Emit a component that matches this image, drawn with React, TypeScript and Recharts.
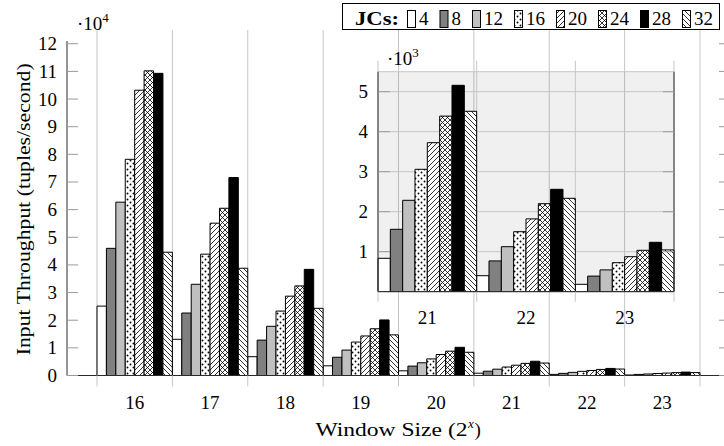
import React from 'react';
import { BarChart, Bar, XAxis, YAxis, CartesianGrid } from 'recharts';

// Window sizes (powers of two) and the joiner-core counts compared at each size
const windowSizes = [16, 17, 18, 19, 20, 21, 22, 23];
const jcCounts = [4, 8, 12, 16, 20, 24, 28, 32];

// Input throughput in tuples/second, one array per JC count (indexed by window size)
const jc4 = [25100, 13100, 6800, 3500, 1700, 835, 400, 185];
const jc8 = [46000, 22600, 12800, 6600, 3400, 1560, 770, 390];
const jc12 = [62700, 33000, 17800, 9200, 4600, 2285, 1125, 545];
const jc16 = [78200, 43900, 23300, 12100, 6000, 3060, 1500, 725];
const jc20 = [103200, 55100, 28700, 14300, 7600, 3725, 1820, 875];
const jc24 = [110200, 60500, 32400, 16900, 8800, 4390, 2200, 1035];
const jc28 = [109300, 71600, 38400, 20100, 10200, 5160, 2560, 1235];
const jc32 = [44600, 38800, 24300, 14700, 8400, 4510, 2335, 1045];

// Axis ticks
const mainTicks = [0, 10000, 20000, 30000, 40000, 50000, 60000, 70000, 80000, 90000, 100000, 110000, 120000];
const insetTicks = [1000, 2000, 3000, 4000, 5000];
const insetSizes = [21, 22, 23];

const seriesValues = [jc4, jc8, jc12, jc16, jc20, jc24, jc28, jc32];

const rows = windowSizes.map((size, i) => {
  const row: Record<string, number> = { size };
  jcCounts.forEach((jc, k) => {
    row['jc' + jc] = seriesValues[k][i];
  });
  return row;
});
const insetRows = rows.filter((r) => insetSizes.includes(r.size));

// ---- styling ----
const FONT = "'Liberation Serif', 'Times New Roman', serif";
const GRID = '#c6c6c6';
const TICK = '#9a9a9a';
const FRAME = '#2a2a2a';
const FS = 19;

const FILLS = ['#ffffff', '#808080', '#c0c0c0', 'url(#jc-dots)', 'url(#jc-ne)', 'url(#jc-cross)', '#000000', 'url(#jc-nw)'];

// ---- main chart layout ----
const MAIN_W = 760;
const MAIN_H = 446;
const MAIN_LEFT_AXIS = 67;
const MAIN_RIGHT_AXIS = 30;
const MAIN_TOP = 41;
const MAIN_X_AXIS_H = 40;
const MAIN_BOTTOM_MARGIN = 30.5;
const MAIN_PAD = 30;
const MAIN_PLOT_W = MAIN_W - MAIN_LEFT_AXIS - MAIN_RIGHT_AXIS;
const MAIN_PLOT_BOTTOM = MAIN_H - MAIN_X_AXIS_H - MAIN_BOTTOM_MARGIN;
const MAIN_BAND = (MAIN_PLOT_W - 2 * MAIN_PAD) / windowSizes.length;

// ---- inset layout ----
const INSET_X = 330;
const INSET_Y = 45;
const INSET_W = 354;
const INSET_H = 290;
const INSET_LEFT_AXIS = 48;
const INSET_RIGHT_AXIS = 10;
const INSET_TOP = 26.7;
const INSET_X_AXIS_H = 30;
const INSET_BOTTOM_MARGIN = 13.3;
const INSET_PLOT_W = INSET_W - INSET_LEFT_AXIS - INSET_RIGHT_AXIS;
const INSET_BAND = INSET_PLOT_W / insetSizes.length;

// ---- legend layout ----
const LEGEND_X = 342;
const LEGEND_Y = 3;
const LEGEND_W = 378;
const LEGEND_H = 27;
const SWATCH_W = 8;
const SWATCH_H = 17;
const DIGIT_W = 9.5;

// band boundaries for vertical grid lines, taken from the band scale when available
const bandEdges = (pad: number, band: number, count: number) => (args: any) => {
  const scale = args?.xAxis?.scale;
  try {
    if (scale && typeof scale.bandwidth === 'function' && typeof scale.domain === 'function') {
      const bw = scale.bandwidth();
      const starts = scale.domain().map((d: any) => scale(d));
      const out = [...starts, starts[starts.length - 1] + bw];
      if (out.every((v: any) => Number.isFinite(v))) return out;
    }
  } catch (e) {
    // fall through to layout-based edges
  }
  const left = args?.offset?.left ?? 0;
  return Array.from({ length: count + 1 }, (_, i) => left + pad + i * band);
};

const MainXTick = (props: any) => {
  const { x, y, payload, index } = props;
  const half = MAIN_BAND / 2;
  const edges = [x - half];
  if (index === windowSizes.length - 1) edges.push(x + half);
  return (
    <g>
      {edges.map((ex) => (
        <g key={ex}>
          <line x1={ex} x2={ex} y1={MAIN_TOP - 11} y2={MAIN_TOP} stroke={GRID} strokeWidth={1} />
          <line x1={ex} x2={ex} y1={y} y2={y + 11} stroke={GRID} strokeWidth={1} />
        </g>
      ))}
      <text x={x} y={y + 33.5} textAnchor="middle" fontSize={FS} fontFamily={FONT} fill="#000">
        {payload.value}
      </text>
    </g>
  );
};

const LeftYTick = (props: any) => {
  const { x, y, payload } = props;
  return (
    <g>
      <line x1={x + 10} x2={x + 21} y1={y} y2={y} stroke={TICK} strokeWidth={1} />
      <text x={x} y={y} dy="0.34em" textAnchor="end" fontSize={FS} fontFamily={FONT} fill="#000">
        {payload.value / 10000}
      </text>
    </g>
  );
};

const RightYTick = (props: any) => {
  const { x, y } = props;
  return <line x1={x - 11} x2={x} y1={y} y2={y} stroke={TICK} strokeWidth={1} />;
};

const InsetXTick = (props: any) => {
  const { x, y, payload, index } = props;
  const half = INSET_BAND / 2;
  const edges = [x - half];
  if (index === insetSizes.length - 1) edges.push(x + half);
  return (
    <g>
      {edges.map((ex) => (
        <g key={ex}>
          <line x1={ex} x2={ex} y1={INSET_TOP - 11} y2={INSET_TOP} stroke={GRID} strokeWidth={1} />
          <line x1={ex} x2={ex} y1={y} y2={y + 10} stroke={GRID} strokeWidth={1} />
        </g>
      ))}
      <text x={x} y={y + 32.3} textAnchor="middle" fontSize={FS} fontFamily={FONT} fill="#000">
        {payload.value}
      </text>
    </g>
  );
};

const InsetLeftTick = (props: any) => {
  const { x, y, payload } = props;
  return (
    <g>
      <line x1={x + 10} x2={x + 22} y1={y} y2={y} stroke={TICK} strokeWidth={1} />
      <text x={x} y={y} dy="0.34em" textAnchor="end" fontSize={FS} fontFamily={FONT} fill="#000">
        {payload.value / 1000}
      </text>
    </g>
  );
};

const InsetRightTick = (props: any) => {
  const { x, y } = props;
  return <line x1={x - 11} x2={x} y1={y} y2={y} stroke={TICK} strokeWidth={1} />;
};

const PatternDefs = () => (
  <svg width={0} height={0} style={{ position: 'absolute' }}>
    <defs>
      <pattern id="jc-dots" patternUnits="userSpaceOnUse" width={6} height={6}>
        <rect width={6} height={6} fill="#fff" />
        <circle cx={1.5} cy={1.5} r={0.95} fill="#000" />
        <circle cx={4.5} cy={4.5} r={0.95} fill="#000" />
      </pattern>
      <pattern id="jc-ne" patternUnits="userSpaceOnUse" width={5} height={5}>
        <rect width={5} height={5} fill="#fff" />
        <path d="M-1,1 L1,-1 M0,5 L5,0 M4,6 L6,4" stroke="#000" strokeWidth={0.8} />
      </pattern>
      <pattern id="jc-nw" patternUnits="userSpaceOnUse" width={5} height={5}>
        <rect width={5} height={5} fill="#fff" />
        <path d="M-1,4 L1,6 M0,0 L5,5 M4,-1 L6,1" stroke="#000" strokeWidth={0.8} />
      </pattern>
      <pattern id="jc-cross" patternUnits="userSpaceOnUse" width={5} height={5}>
        <rect width={5} height={5} fill="#fff" />
        <path d="M-1,1 L1,-1 M0,5 L5,0 M4,6 L6,4 M-1,4 L1,6 M0,0 L5,5 M4,-1 L6,1" stroke="#000" strokeWidth={0.8} />
      </pattern>
    </defs>
  </svg>
);

// Legend entries laid out left to right: swatch, short gap, label, column gap
const legendEntries = (() => {
  let cursor = 65;
  return jcCounts.map((jc, k) => {
    const labelW = String(jc).length * DIGIT_W;
    const entry = { jc, fill: FILLS[k], boxX: cursor, textX: cursor + SWATCH_W + 4 };
    cursor += SWATCH_W + 4 + labelW + 11;
    return entry;
  });
})();

const LegendBox = () => (
  <svg
    width={LEGEND_W}
    height={LEGEND_H}
    style={{ position: 'absolute', left: LEGEND_X, top: LEGEND_Y }}
    fontFamily={FONT}
  >
    <rect x={0.5} y={0.5} width={LEGEND_W - 1} height={LEGEND_H - 1} fill="#fff" stroke="#000" strokeWidth={1} />
    <text x={13} y={22} fontSize={FS} fontWeight="bold" textLength={44} lengthAdjust="spacingAndGlyphs" fill="#000">
      JCs:
    </text>
    {legendEntries.map((e) => (
      <g key={e.jc}>
        <rect x={e.boxX + 0.5} y={7.5} width={SWATCH_W} height={SWATCH_H} fill={e.fill} stroke="#000" strokeWidth={1} />
        <text x={e.textX} y={22} fontSize={FS} fill="#000">
          {e.jc}
        </text>
      </g>
    ))}
  </svg>
);

const bars = (size: number) =>
  jcCounts.map((jc, k) => (
    <Bar
      key={jc}
      dataKey={'jc' + jc}
      fill={FILLS[k]}
      stroke="#000"
      strokeWidth={1}
      barSize={size}
      isAnimationActive={false}
    />
  ));

const X_LABEL_MAIN_W = 152;
const X_LABEL_START = MAIN_LEFT_AXIS + MAIN_PLOT_W / 2 - 83;

export default function App() {
  return (
    <div
      style={{
        position: 'fixed',
        left: 0,
        top: 0,
        width: 724,
        height: 446,
        overflow: 'hidden',
        background: '#fff',
        fontFamily: FONT,
      }}
    >
      <PatternDefs />

      <div style={{ position: 'absolute', left: 0, top: 0 }}>
        <BarChart
          width={MAIN_W}
          height={MAIN_H}
          data={rows}
          margin={{ top: MAIN_TOP, right: 0, bottom: MAIN_BOTTOM_MARGIN, left: 0 }}
          barCategoryGap={0}
          barGap={0}
        >
          <CartesianGrid
            horizontal={false}
            vertical
            stroke={GRID}
            strokeWidth={1}
            verticalCoordinatesGenerator={bandEdges(MAIN_PAD, MAIN_BAND, windowSizes.length)}
          />
          <XAxis
            dataKey="size"
            type="category"
            height={MAIN_X_AXIS_H}
            padding={{ left: MAIN_PAD, right: MAIN_PAD }}
            tickLine={false}
            tickSize={0}
            tickMargin={0}
            axisLine={{ stroke: FRAME, strokeWidth: 1 }}
            tick={<MainXTick />}
            interval={0}
          />
          <XAxis
            xAxisId="top"
            orientation="top"
            dataKey="size"
            height={0}
            padding={{ left: MAIN_PAD, right: MAIN_PAD }}
            tick={false}
            tickLine={false}
            axisLine={{ stroke: '#555', strokeWidth: 1 }}
          />
          <YAxis
            width={MAIN_LEFT_AXIS}
            domain={[0, 121000]}
            ticks={mainTicks}
            interval={0}
            allowDataOverflow
            tickLine={false}
            tickSize={0}
            tickMargin={10}
            axisLine={{ stroke: FRAME, strokeWidth: 1 }}
            tick={<LeftYTick />}
          />
          <YAxis
            yAxisId="right"
            orientation="right"
            width={MAIN_RIGHT_AXIS}
            domain={[0, 121000]}
            ticks={mainTicks}
            interval={0}
            allowDataOverflow
            tickLine={false}
            tickSize={0}
            tickMargin={0}
            axisLine={{ stroke: FRAME, strokeWidth: 1 }}
            tick={<RightYTick />}
          />
          {bars(MAIN_BAND / 8 - 0.002)}
        </BarChart>
      </div>

      <div style={{ position: 'absolute', left: INSET_X, top: INSET_Y }}>
        <BarChart
          width={INSET_W}
          height={INSET_H}
          data={insetRows}
          margin={{ top: INSET_TOP, right: 0, bottom: INSET_BOTTOM_MARGIN, left: 0 }}
          barCategoryGap={0}
          barGap={0}
        >
          <CartesianGrid
            horizontal
            vertical
            stroke={GRID}
            strokeWidth={1}
            fill="#000"
            fillOpacity={0.06}
            verticalCoordinatesGenerator={bandEdges(0, INSET_BAND, insetSizes.length)}
          />
          <XAxis
            dataKey="size"
            type="category"
            height={INSET_X_AXIS_H}
            tickLine={false}
            tickSize={0}
            tickMargin={0}
            axisLine={{ stroke: FRAME, strokeWidth: 1 }}
            tick={<InsetXTick />}
            interval={0}
          />
          <XAxis
            xAxisId="top"
            orientation="top"
            dataKey="size"
            height={0}
            tick={false}
            tickLine={false}
            axisLine={{ stroke: FRAME, strokeWidth: 1 }}
          />
          <YAxis
            width={INSET_LEFT_AXIS}
            domain={[0, 5500]}
            ticks={insetTicks}
            interval={0}
            allowDataOverflow
            tickLine={false}
            tickSize={0}
            tickMargin={10}
            axisLine={{ stroke: FRAME, strokeWidth: 1 }}
            tick={<InsetLeftTick />}
          />
          <YAxis
            yAxisId="right"
            orientation="right"
            width={INSET_RIGHT_AXIS}
            domain={[0, 5500]}
            ticks={insetTicks}
            interval={0}
            allowDataOverflow
            tickLine={false}
            tickSize={0}
            tickMargin={0}
            axisLine={{ stroke: FRAME, strokeWidth: 1 }}
            tick={<InsetRightTick />}
          />
          {bars(INSET_BAND / 8 - 0.002)}
        </BarChart>
      </div>

      <svg
        width={724}
        height={446}
        style={{ position: 'absolute', left: 0, top: 0, pointerEvents: 'none' }}
        fontFamily={FONT}
      >
        <text x={77} y={30} fontSize={FS} fill="#000">
          {'·10'}
          <tspan fontSize={13} dy={-8}>4</tspan>
        </text>
        <text x={387} y={65} fontSize={FS} fill="#000">
          {'·10'}
          <tspan fontSize={13} dy={-8}>3</tspan>
        </text>
        <text
          x={0}
          y={0}
          transform={`translate(30, ${(MAIN_TOP + MAIN_PLOT_BOTTOM) / 2 + 1}) rotate(-90)`}
          textAnchor="middle"
          fontSize={FS}
          textLength={292}
          lengthAdjust="spacingAndGlyphs"
          fill="#000"
        >
          Input Throughput (tuples/second)
        </text>
        <text
          x={X_LABEL_START}
          y={436}
          fontSize={FS}
          textLength={X_LABEL_MAIN_W}
          lengthAdjust="spacingAndGlyphs"
          fill="#000"
        >
          Window Size (2
        </text>
        <text x={X_LABEL_START + X_LABEL_MAIN_W + 0.5} y={428} fontSize={13} fontStyle="italic" fill="#000">
          x
        </text>
        <text x={X_LABEL_START + X_LABEL_MAIN_W + 7} y={436} fontSize={FS} fill="#000">
          )
        </text>
      </svg>

      <LegendBox />
    </div>
  );
}
